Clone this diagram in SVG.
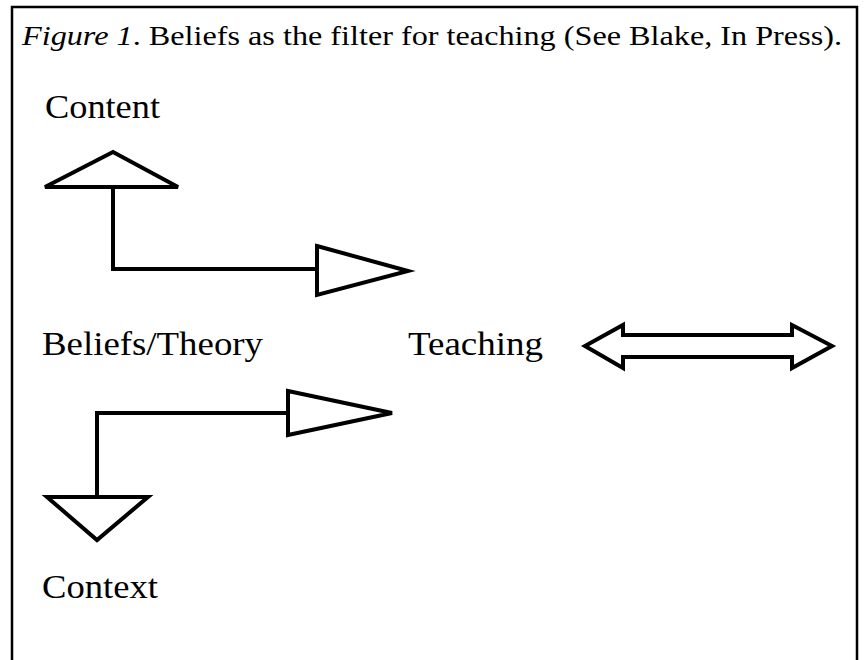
<svg xmlns="http://www.w3.org/2000/svg" width="864" height="660" viewBox="0 0 864 660">
  <style>
    .lbl { font-family: "Liberation Serif", "Times New Roman", serif; font-size: 34px; fill: #000; }
    .ttl { font-family: "Liberation Serif", "Times New Roman", serif; font-size: 28px; fill: #000; }
    .line { fill: none; stroke: #000; stroke-width: 4; stroke-linejoin: miter; }
    .head { fill: #fff; stroke: #000; stroke-width: 4; stroke-linejoin: miter; }
    .frame { fill: none; stroke: #000; stroke-width: 2.5; }
  </style>
  <rect width="864" height="660" fill="#fff"/>

  <!-- open frame: top, left and right edges -->
  <path class="frame" d="M12,660 V7 H857 V660"/>

  <g id="title">
    <text class="ttl" x="22" y="45" textLength="820" lengthAdjust="spacingAndGlyphs"><tspan font-style="italic">Figure 1</tspan>.  Beliefs as the filter for teaching (See Blake, In Press).</text>
  </g>

  <g id="content">
    <text class="lbl" x="45" y="118" textLength="115" lengthAdjust="spacingAndGlyphs">Content</text>
  </g>

  <g id="beliefs">
    <text class="lbl" x="42" y="355" textLength="221" lengthAdjust="spacingAndGlyphs">Beliefs/Theory</text>
  </g>

  <g id="teaching">
    <text class="lbl" x="408" y="355" textLength="135" lengthAdjust="spacingAndGlyphs">Teaching</text>
  </g>

  <g id="context">
    <text class="lbl" x="42" y="598" textLength="116" lengthAdjust="spacingAndGlyphs">Context</text>
  </g>

  <g id="connectors">
    <!-- upper elbow: up to Content, right to Teaching -->
    <polyline class="line" points="113,187 113,269 317,269"/>
    <polygon class="head" points="45,187 113,152 178,187"/>
    <polygon class="head" points="317,246 408,271 317,295"/>

    <!-- lower elbow: right to Teaching, down to Context -->
    <polyline class="line" points="288,413 97,413 97,497"/>
    <polygon class="head" points="288,391 392,413 288,435"/>
    <polygon class="head" points="47,497 148,497 97,540"/>

    <!-- two-way block arrow beside Teaching -->
    <polygon class="head" points="585,346 623,325 623,335 792,335 792,325 832,346 792,368 792,357 623,357 623,368"/>
  </g>
</svg>
